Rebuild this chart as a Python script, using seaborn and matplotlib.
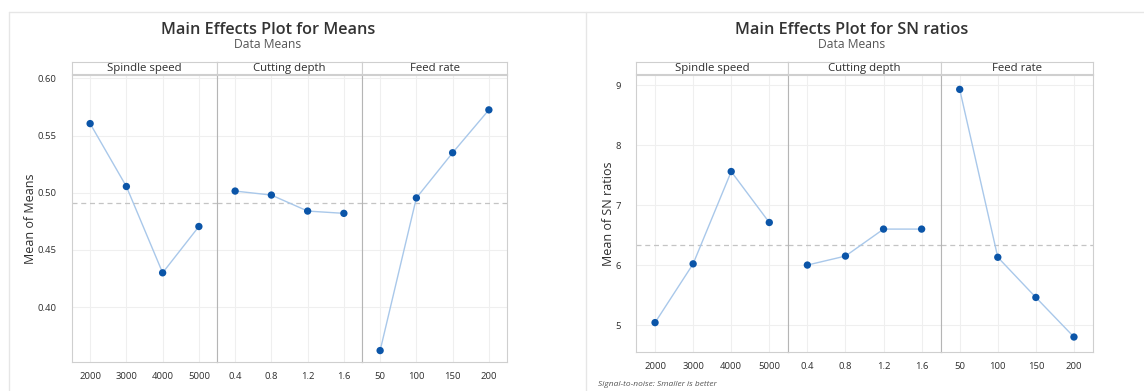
import numpy as np
import pandas as pd
import seaborn as sns
from matplotlib import pyplot as plt
from matplotlib.lines import Line2D

factors = ["Spindle speed", "Cutting depth", "Feed rate"]
spindle_levels = ["2000", "3000", "4000", "5000"]
depth_levels = ["0.4", "0.8", "1.2", "1.6"]
feed_levels = ["50", "100", "150", "200"]

# main effects
means_spindle = [0.5605, 0.5055, 0.430, 0.4705]
means_depth = [0.5015, 0.498, 0.484, 0.482]
means_feed = [0.362, 0.4955, 0.535, 0.5725]

sn_spindle = [5.04, 6.02, 7.56, 6.71]
sn_depth = [6.00, 6.15, 6.60, 6.60]
sn_feed = [8.93, 6.13, 5.46, 4.80]

LINE_C = "#a9c8ea"
DOT_C = "#0b55a8"
GRID_C = "#efefef"
FRAME_C = "#cfcfcf"
TEXT_C = "#2e2e2e"


def long_frame(values_by_factor):
    rows = []
    levels = [spindle_levels, depth_levels, feed_levels]
    for factor, lv, vals in zip(factors, levels, values_by_factor):
        for i, (lab, v) in enumerate(zip(lv, vals)):
            rows.append({"factor": factor, "level": lab, "pos": i, "value": v})
    return pd.DataFrame(rows)


means_df = long_frame([means_spindle, means_depth, means_feed])
sn_df = long_frame([sn_spindle, sn_depth, sn_feed])

sns.set_theme(style="white")
plt.rcParams["font.family"] = ["Open Sans", "DejaVu Sans"]

W, H = 1144, 391
fig = plt.figure(figsize=(W / 100, H / 100), dpi=100)


def px(x0, y0, x1, y1):
    # pixel box (top-left origin) -> figure fraction rect
    return [x0 / W, 1 - y1 / H, (x1 - x0) / W, (y1 - y0) / H]


def main_effects(df, *, left, right, top, bottom, strip_top, ylim, yticks, yfmt,
                 ylabel, ylabel_x, title, title_x):
    edges = np.linspace(left, right, 4)
    grand_mean = df.groupby("factor")["value"].mean().mean()
    for k, factor in enumerate(factors):
        sub = df[df.factor == factor]
        ax = fig.add_axes(px(edges[k], top, edges[k + 1], bottom))
        ax.set_xlim(-0.5, 3.5)
        ax.set_ylim(*ylim)
        ax.set_xticks(range(4))
        ax.set_yticks(yticks)
        ax.grid(True, color=GRID_C, lw=0.8)
        ax.set_axisbelow(True)
        ax.axhline(grand_mean, color="#c4c4c4", lw=0.9, ls=(0, (4, 3)), zorder=1)
        sns.lineplot(data=sub, x="pos", y="value", ax=ax, color=LINE_C, lw=1.0,
                     zorder=2)
        sns.scatterplot(data=sub, x="pos", y="value", ax=ax, color=DOT_C, s=28,
                        edgecolor="none", zorder=3)
        ax.set_xticklabels(sub["level"].tolist())
        ax.set_xlabel("")
        ax.set_ylabel("")
        ax.tick_params(axis="x", length=2, width=0.6, color=FRAME_C, pad=5,
                       labelsize=6.8, labelcolor=TEXT_C)
        ax.tick_params(axis="y", length=0, pad=11, labelsize=6.8, labelcolor=TEXT_C)
        for sp in ax.spines.values():
            sp.set_color(FRAME_C)
            sp.set_linewidth(0.8)
        if k > 0:
            ax.spines["left"].set_color("#b5b5b5")
            ax.tick_params(axis="y", labelleft=False)
        else:
            ax.set_yticklabels([yfmt.format(t) for t in yticks])
        # strip header
        sax = fig.add_axes(px(edges[k], strip_top, edges[k + 1], top - 1))
        sax.set_xticks([])
        sax.set_yticks([])
        for sp in sax.spines.values():
            sp.set_color(FRAME_C)
            sp.set_linewidth(0.8)
        sax.text(0.5, 0.45, factor, ha="center", va="center", fontsize=8.2,
                 color=TEXT_C, transform=sax.transAxes)
    fig.text(ylabel_x / W, 1 - ((top + bottom) / 2) / H, ylabel, rotation=90,
             ha="center", va="center", fontsize=9, color=TEXT_C)
    fig.text(title_x / W, 1 - 30 / H, title, ha="center", va="center",
             fontsize=11.7, fontweight="semibold", color="#333333")
    fig.text(title_x / W, 1 - 44.5 / H, "Data Means", ha="center", va="center",
             fontsize=8.7, color="#555555")


main_effects(means_df, left=72, right=507, top=75, bottom=362, strip_top=62,
             ylim=(0.352, 0.603), yticks=[0.40, 0.45, 0.50, 0.55, 0.60],
             yfmt="{:.2f}", ylabel="Mean of Means", ylabel_x=30,
             title="Main Effects Plot for Means", title_x=268)

main_effects(sn_df, left=636, right=1093, top=75, bottom=352, strip_top=62,
             ylim=(4.55, 9.17), yticks=[5, 6, 7, 8, 9],
             yfmt="{:.0f}", ylabel="Mean of SN ratios", ylabel_x=608,
             title="Main Effects Plot for SN ratios", title_x=852)

fig.text(598 / W, 1 - 385 / H, "Signal-to-noise: Smaller is better", ha="left",
         va="center", fontsize=6, style="italic", color="#555555")

# outer frames of the two pasted panels
for xs, ys in [([9 / W, 9 / W], [0, 1 - 12 / H]),
               ([9 / W, 1], [1 - 12 / H, 1 - 12 / H]),
               ([586 / W, 586 / W], [0, 1 - 12 / H])]:
    fig.add_artist(Line2D(xs, ys, color="#e6e6e6", lw=1.0))

fig.savefig("out.png", dpi=100)
